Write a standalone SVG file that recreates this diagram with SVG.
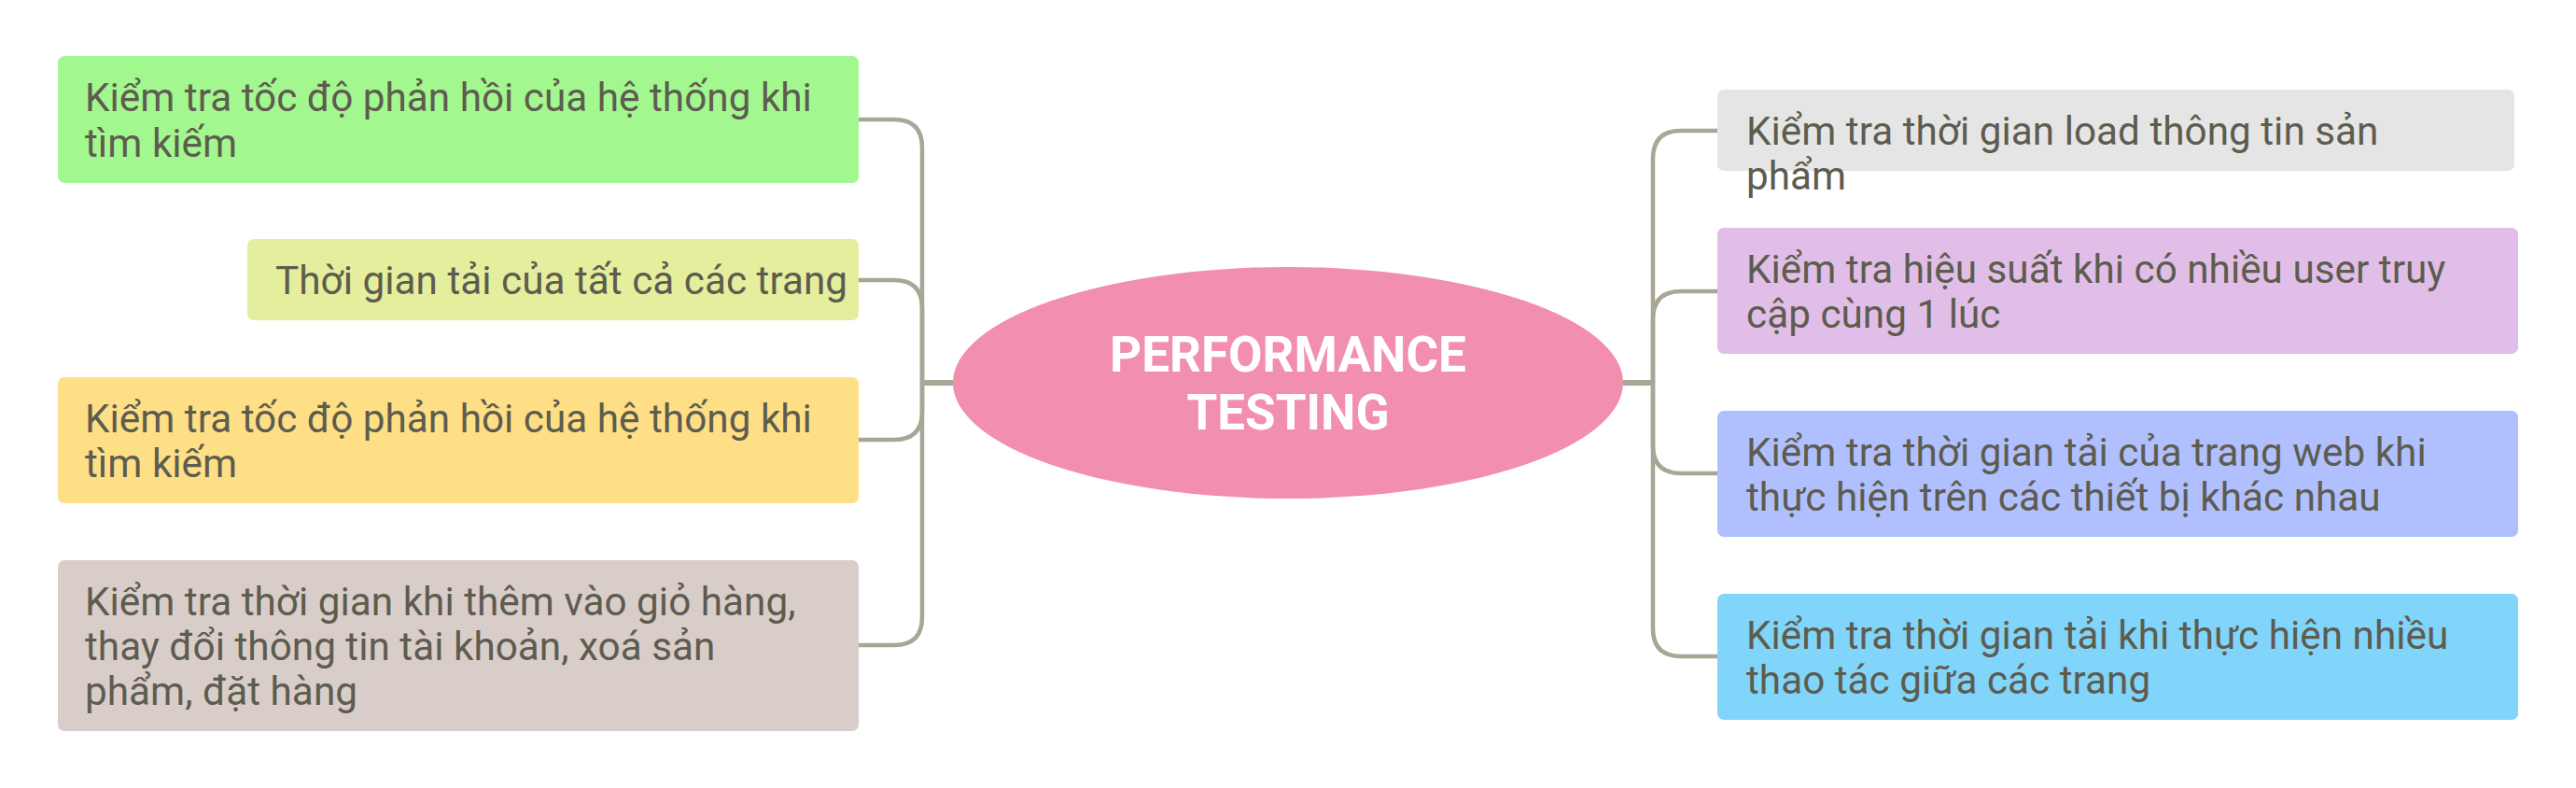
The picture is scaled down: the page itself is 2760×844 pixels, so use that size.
<svg xmlns="http://www.w3.org/2000/svg" width="2760" height="844" viewBox="0 0 2760 844">
<style>
.box{stroke:none}
.t{font-family:Roboto,"Noto Sans",sans-serif;font-size:42.3px;fill:#5D5C4F}
.c{font-family:Roboto,"Noto Sans",sans-serif;font-size:53px;font-weight:700;fill:#FFFFFF;text-anchor:middle}
.ln{fill:none;stroke:#A9A696;stroke-width:4.5;stroke-linecap:butt}
.main{fill:none;stroke:#A9A696;stroke-width:6}
</style>
<rect width="2760" height="844" fill="#FFFFFF"/>
<g id="connectors">
<path class="main" d="M1021 410 H988 M1739 410 H1771"/>
<path class="ln" d="M988 410 V158 Q988 128 958 128 H920"/>
<path class="ln" d="M988 410 V330 Q988 300 958 300 H920"/>
<path class="ln" d="M988 410 V441 Q988 471 958 471 H920"/>
<path class="ln" d="M988 410 V661 Q988 691 958 691 H920"/>
<path class="ln" d="M1771 410 V170 Q1771 140 1801 140 H1840"/>
<path class="ln" d="M1771 410 V342 Q1771 312 1801 312 H1840"/>
<path class="ln" d="M1771 410 V477 Q1771 507 1801 507 H1840"/>
<path class="ln" d="M1771 410 V673 Q1771 703 1801 703 H1840"/>
</g>
<g id="center">
<ellipse cx="1380" cy="410" rx="359" ry="124" fill="#F28FB0"/>
<text class="c" x="1380" y="398">PERFORMANCE</text>
<text class="c" x="1380" y="460">TESTING</text>
</g>
<g id="left1">
<rect class="box" x="62" y="60" width="858" height="136" rx="7" fill="#A3F78F"/>
<text class="t" x="91" y="119">Kiểm tra tốc độ phản hồi của hệ thống khi</text>
<text class="t" x="91" y="168">tìm kiếm</text>
</g>
<g id="left2">
<rect class="box" x="265" y="256" width="655" height="87" rx="7" fill="#E4EE9D"/>
<text class="t" x="295" y="315">Thời gian tải của tất cả các trang</text>
</g>
<g id="left3">
<rect class="box" x="62" y="404" width="858" height="135" rx="7" fill="#FEDF86"/>
<text class="t" x="91" y="463">Kiểm tra tốc độ phản hồi của hệ thống khi</text>
<text class="t" x="91" y="511">tìm kiếm</text>
</g>
<g id="left4">
<rect class="box" x="62" y="600" width="858" height="183" rx="7" fill="#D8CDC9"/>
<text class="t" x="91" y="659">Kiểm tra thời gian khi thêm vào giỏ hàng,</text>
<text class="t" x="91" y="707">thay đổi thông tin tài khoản, xoá sản</text>
<text class="t" x="91" y="755">phẩm, đặt hàng</text>
</g>
<g id="right1">
<rect class="box" x="1840" y="96" width="854" height="87" rx="7" fill="#E5E5E5"/>
<text class="t" x="1871" y="155">Kiểm tra thời gian load thông tin sản</text>
<text class="t" x="1871" y="203">phẩm</text>
</g>
<g id="right2">
<rect class="box" x="1840" y="244" width="858" height="135" rx="7" fill="#E1BEE7"/>
<text class="t" x="1871" y="303">Kiểm tra hiệu suất khi có nhiều user truy</text>
<text class="t" x="1871" y="351">cập cùng 1 lúc</text>
</g>
<g id="right3">
<rect class="box" x="1840" y="440" width="858" height="135" rx="7" fill="#B0BFFD"/>
<text class="t" x="1871" y="499">Kiểm tra thời gian tải của trang web khi</text>
<text class="t" x="1871" y="547">thực hiện trên các thiết bị khác nhau</text>
</g>
<g id="right4">
<rect class="box" x="1840" y="636" width="858" height="135" rx="7" fill="#81D4FA"/>
<text class="t" x="1871" y="695">Kiểm tra thời gian tải khi thực hiện nhiều</text>
<text class="t" x="1871" y="743">thao tác giữa các trang</text>
</g>
</svg>
